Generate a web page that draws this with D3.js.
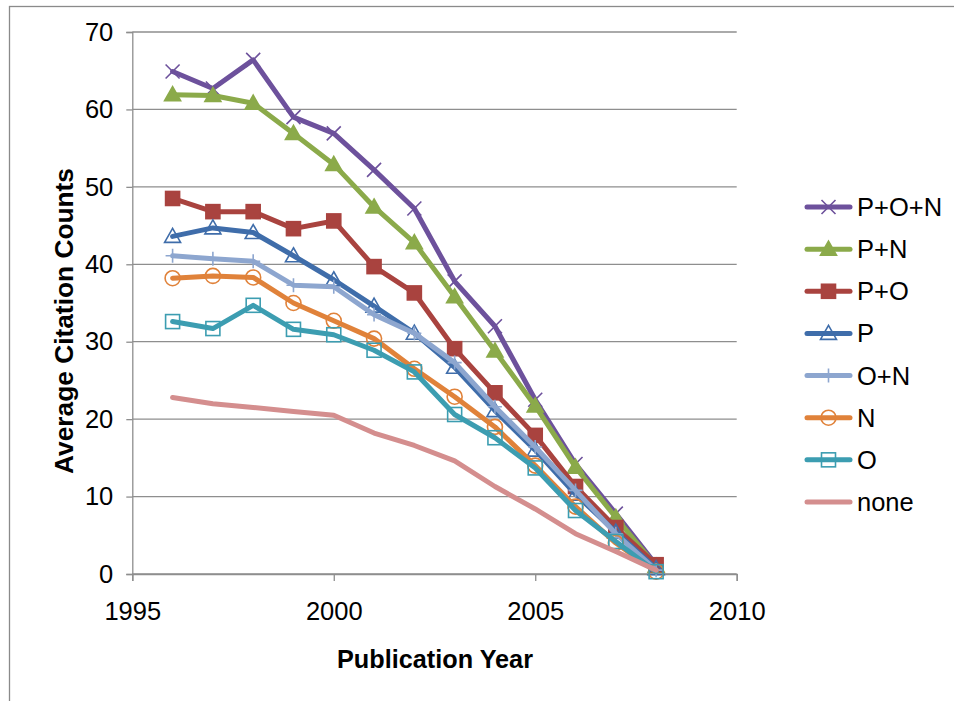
<!DOCTYPE html>
<html><head><meta charset="utf-8">
<script src="https://cdn.jsdelivr.net/npm/d3@7"></script>
<style>
html,body{margin:0;padding:0;background:#fff;}
svg{display:block;font-family:"Liberation Sans",Arial,sans-serif;}
</style></head>
<body><svg id="chart" width="954" height="701"></svg>
<script>
const years = [1996,1997,1998,1999,2000,2001,2002,2003,2004,2005,2006,2007,2008];
const seriesNames = ["P+O+N","P+N","P+O","P","O+N","N","O","none"];
const valsPON  = [64.9,62.7,66.4,59.0,56.9,52.2,47.2,37.8,32.0,22.5,14.2,7.8,1.2];
const valsPN   = [61.9,61.8,60.8,56.9,52.9,47.4,42.8,35.8,28.8,21.7,13.8,7.3,1.0];
const valsPO   = [48.5,46.8,46.8,44.6,45.6,39.7,36.3,29.1,23.4,17.9,11.3,6.0,1.2];
const valsP    = [43.6,44.7,44.1,41.1,38.0,34.6,31.1,26.7,21.1,16.0,10.3,5.4,0.7];
const valsON   = [41.1,40.7,40.4,37.3,37.1,33.5,31.1,27.3,21.6,16.4,10.8,5.2,0.5];
const valsN    = [38.2,38.5,38.3,35.0,32.7,30.4,26.5,22.9,19.0,14.0,8.7,4.0,0.3];
const valsO    = [32.6,31.7,34.7,31.6,30.9,28.9,26.1,20.6,17.6,13.7,8.2,4.2,0.3];
const valsNone = [22.8,22.0,21.5,21.0,20.5,18.2,16.6,14.6,11.3,8.4,5.2,2.9,0.5];
const xTicks = [1995,2000,2005,2010];
const yTicks = [0,10,20,30,40,50,60,70];
const xLabel = "Publication Year";
const yLabel = "Average Citation Counts";

const colors = ["#6D519C","#8BAA4A","#A9433F","#3F6DAA","#8DA6CF","#E0823A","#3C9DB1","#D48E8E"];
const markers = ["x","triFill","squareFill","triOpen","plus","circleOpen","squareOpen","none"];
const allVals = [valsPON,valsPN,valsPO,valsP,valsON,valsN,valsO,valsNone];

const svg = d3.select("#chart");
const x = d3.scaleLinear().domain([1995,2010]).range([132.3,736.7]);
const y = d3.scaleLinear().domain([0,70]).range([574,32]);
const FS = 25.5;

// outer frame
svg.append("rect").attr("x",9.5).attr("y",6.5).attr("width",1000).attr("height",800)
  .attr("fill","none").attr("stroke","#8a8a8a").attr("stroke-width",1.3);

const grid = "#8e8e8e";
// gridlines
svg.append("g").selectAll("line").data(yTicks).join("line")
  .attr("x1",x(1995)).attr("x2",x(2010)).attr("y1",d=>y(d)).attr("y2",d=>y(d))
  .attr("stroke",grid).attr("stroke-width",1.3);

// y axis
const yAxis = svg.append("g").attr("transform",`translate(${x(1995)},0)`)
  .call(d3.axisLeft(y).tickValues(yTicks).tickSize(6).tickPadding(13).tickFormat(d3.format("d")));
yAxis.select(".domain").attr("stroke",grid).attr("stroke-width",1.3);
yAxis.selectAll(".tick line").attr("stroke",grid).attr("stroke-width",1.3);
yAxis.selectAll("text").attr("font-size",FS).attr("fill","#000").attr("font-family","Liberation Sans, Arial, sans-serif");

// x axis
const xAxis = svg.append("g").attr("transform",`translate(0,${y(0)})`)
  .call(d3.axisBottom(x).tickValues(xTicks).tickSize(7).tickPadding(21).tickFormat(d3.format("d")));
xAxis.select(".domain").attr("stroke",grid).attr("stroke-width",1.3);
xAxis.selectAll(".tick line").attr("stroke",grid).attr("stroke-width",1.3);
xAxis.selectAll("text").attr("font-size",FS).attr("fill","#000").attr("font-family","Liberation Sans, Arial, sans-serif");

// axis titles
svg.append("text").attr("x",435).attr("y",668).attr("text-anchor","middle")
  .attr("font-size",25).attr("font-weight","bold").attr("textLength",196).attr("lengthAdjust","spacingAndGlyphs").text(xLabel);
svg.append("text").attr("transform","translate(73,321) rotate(-90)").attr("text-anchor","middle")
  .attr("font-size",25).attr("font-weight","bold").attr("textLength",306).attr("lengthAdjust","spacingAndGlyphs").text(yLabel);

function drawMarker(g, type, cx, cy, color){
  const s = 7;
  if(type==="x"){
    g.append("path").attr("d",`M${cx-s},${cy-s}L${cx+s},${cy+s}M${cx-s},${cy+s}L${cx+s},${cy-s}`)
      .attr("stroke",color).attr("stroke-width",1.6).attr("fill","none");
  } else if(type==="plus"){
    g.append("path").attr("d",`M${cx-s},${cy}L${cx+s},${cy}M${cx},${cy-s}L${cx},${cy+s}`)
      .attr("stroke",color).attr("stroke-width",1.6).attr("fill","none");
  } else if(type==="triFill"||type==="triOpen"){
    const h=8;
    g.append("path").attr("d",`M${cx},${cy-h}L${cx+h},${cy+h*0.75}L${cx-h},${cy+h*0.75}Z`)
      .attr("fill",type==="triFill"?color:"none").attr("stroke",color).attr("stroke-width",1.6);
  } else if(type==="squareFill"||type==="squareOpen"){
    const h=7;
    g.append("rect").attr("x",cx-h).attr("y",cy-h).attr("width",2*h).attr("height",2*h)
      .attr("fill",type==="squareFill"?color:"none").attr("stroke",color).attr("stroke-width",1.6);
  } else if(type==="circleOpen"){
    g.append("circle").attr("cx",cx).attr("cy",cy).attr("r",7.5)
      .attr("fill","none").attr("stroke",color).attr("stroke-width",1.6);
  }
}

const line = d3.line().x((d,i)=>x(years[i])).y(d=>y(d));
seriesNames.forEach((name,k)=>{
  const g = svg.append("g");
  g.append("path").datum(allVals[k]).attr("d",line).attr("fill","none")
    .attr("stroke",colors[k]).attr("stroke-width",5).attr("stroke-linejoin","round").attr("stroke-linecap","round");
  allVals[k].forEach((v,i)=>drawMarker(g,markers[k],x(years[i]),y(v),colors[k]));
});

// legend
const lg = svg.append("g");
seriesNames.forEach((name,k)=>{
  const cy = 207 + k*42.14;
  lg.append("line").attr("x1",807).attr("x2",850).attr("y1",cy).attr("y2",cy)
    .attr("stroke",colors[k]).attr("stroke-width",5).attr("stroke-linecap","round");
  drawMarker(lg,markers[k],828.5,cy,colors[k]);
  lg.append("text").attr("x",857).attr("y",cy+9).attr("font-size",FS).attr("fill","#000").text(name);
});
</script></body></html>
